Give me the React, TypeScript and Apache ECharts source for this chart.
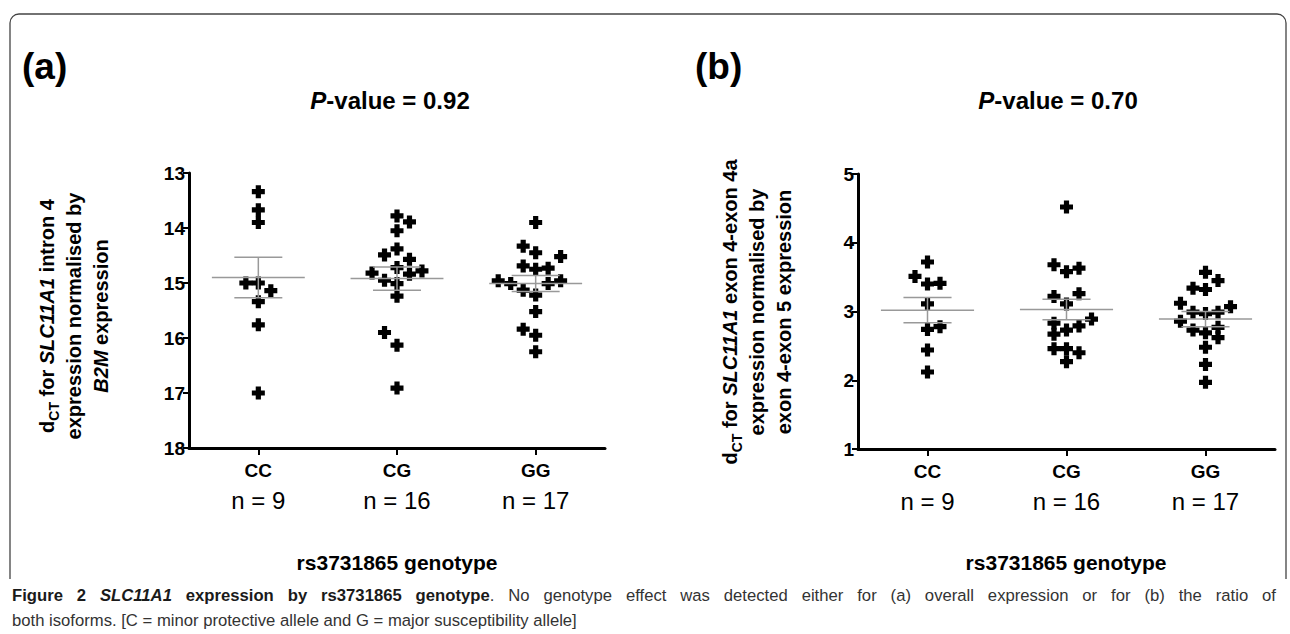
import React, { useEffect, useRef } from "react";
import * as echarts from "echarts";

// ---------- data ----------
const categories = ["CC", "CG", "GG"];
const groupSizes = ["n = 9", "n = 16", "n = 17"];

// Panel (a): dCT intron 4 normalised by B2M
const aCC = [13.34, 13.67, 13.9, 15.0, 15.0, 15.14, 15.34, 15.76, 17.0];
const aCCSlot = [0, 0, 0, -1, 0, 1, 0, 0, 0];
const aCG = [13.78, 13.89, 14.05, 14.38, 14.49, 14.57, 14.72, 14.82, 14.78, 14.84, 14.95, 15.01, 15.24, 15.9, 16.13, 16.91];
const aCGSlot = [0, 1, 0, 0, -1, 1, 0, -2, 2, 1, -1, 0, 0, -1, 0, 0];
const aGG = [13.9, 14.33, 14.45, 14.52, 14.69, 14.75, 14.73, 14.96, 15.01, 15.01, 14.96, 15.13, 15.22, 15.52, 15.84, 15.95, 16.25];
const aGGSlot = [0, -1, 0, 2, -1, 0, 1, -3, -2, 1, 2, -1, 0, 0, -1, 0, 0];
const meanA = [14.9, 14.92, 15.01];
const semA = [0.37, 0.21, 0.145];

// Panel (b): dCT exon 4-exon 4a normalised by exon 4-exon 5
const bCC = [3.72, 3.51, 3.4, 3.41, 3.11, 2.74, 2.78, 2.44, 2.12];
const bCCSlot = [0, -1, 0, 1, 0, 0, 1, 0, 0];
const bCG = [4.52, 3.68, 3.58, 3.63, 3.26, 3.22, 3.11, 2.89, 2.83, 2.79, 2.73, 2.67, 2.46, 2.46, 2.4, 2.27];
const bCGSlot = [0, -1, 0, 1, 1, -1, 0, 2, -1, 1, 0, -1, -1, 0, 1, 0];
const bGG = [3.57, 3.45, 3.34, 3.32, 3.12, 2.99, 2.97, 2.99, 3.07, 2.86, 2.73, 2.69, 2.77, 2.62, 2.48, 2.23, 1.97];
const bGGSlot = [0, 1, -1, 0, -2, -1, 0, 1, 2, -2, -1, 0, 1, 1, 0, 0, 0];
const meanB = [3.02, 3.03, 2.89];
const semB = [0.185, 0.15, 0.11];

const pValueA = "0.92";
const pValueB = "0.70";

// ---------- style constants ----------
const FONT = '"Liberation Sans", Arial, Helvetica, sans-serif';
const CAP_FONT = '"Liberation Sans", Arial, sans-serif';
const SLOT = 0.09;
const PLUS = "path://M3,0H7V3H10V7H7V10H3V7H0V3H3Z";

function swarm(groups: number[][], slots: number[][]) {
  const out: number[][] = [];
  groups.forEach((vals, i) => {
    vals.forEach((v, j) => out.push([i + slots[i][j] * SLOT, v]));
  });
  return out;
}

function meanSemSeries(xIdx: number, yIdx: number, means: number[], sems: number[]) {
  return {
    type: "custom",
    xAxisIndex: xIdx,
    yAxisIndex: yIdx,
    silent: true,
    z: 5,
    data: means.map((m, i) => [i, m, sems[i]]),
    renderItem: (params: any, api: any) => {
      const x = api.value(0);
      const m = api.value(1);
      const s = api.value(2);
      const unit = api.size([1, 0])[0];
      const c = api.coord([x, m]);
      const p1 = api.coord([x, m - s]);
      const p2 = api.coord([x, m + s]);
      const mw = unit * 0.335;
      const cw = unit * 0.173;
      const st = { stroke: "#999999", lineWidth: 1.5 };
      return {
        type: "group",
        children: [
          { type: "line", shape: { x1: c[0] - mw, y1: c[1], x2: c[0] + mw, y2: c[1] }, style: st },
          { type: "line", shape: { x1: c[0], y1: p1[1], x2: c[0], y2: p2[1] }, style: st },
          { type: "line", shape: { x1: c[0] - cw, y1: p1[1], x2: c[0] + cw, y2: p1[1] }, style: st },
          { type: "line", shape: { x1: c[0] - cw, y1: p2[1], x2: c[0] + cw, y2: p2[1] }, style: st },
        ],
      };
    },
  };
}

function catAxis(gridIndex: number) {
  return {
    gridIndex,
    type: "category",
    data: categories,
    boundaryGap: true,
    axisLine: { show: true, onZero: false, lineStyle: { color: "#000", width: 3 } },
    axisTick: { show: true, alignWithLabel: true, length: 7, lineStyle: { color: "#000", width: 2 } },
    splitLine: { show: false },
    axisLabel: {
      margin: 10,
      color: "#000",
      formatter: (v: string, i: number) => `{c|${v}}\n{n|${groupSizes[i]}}`,
      rich: {
        c: { fontSize: 19, fontWeight: "bold", fontFamily: FONT, lineHeight: 24, color: "#000" },
        n: { fontSize: 24, fontFamily: FONT, lineHeight: 36, color: "#000" },
      },
    },
  };
}

function valAxisHidden(gridIndex: number) {
  return { gridIndex, type: "value", min: -0.5, max: 2.5, show: false, axisLine: { onZero: false }, splitLine: { show: false } };
}

function yAxis(gridIndex: number, min: number, max: number, inverse: boolean) {
  return {
    gridIndex,
    type: "value",
    min,
    max,
    interval: 1,
    inverse,
    axisLine: { show: true, onZero: false, lineStyle: { color: "#000", width: 3 } },
    axisTick: { show: true, length: 6, lineStyle: { color: "#000", width: 2 } },
    splitLine: { show: false },
    axisLabel: { margin: 4, fontSize: 19, fontWeight: "bold", fontFamily: FONT, color: "#000" },
  };
}

const yTitleRich = {
  b: { fontSize: 20, fontWeight: "bold", fontFamily: FONT, lineHeight: 27, fill: "#000" },
  bi: { fontSize: 20, fontWeight: "bold", fontStyle: "italic", fontFamily: FONT, lineHeight: 27, fill: "#000" },
  s: { fontSize: 14, fontWeight: "bold", fontFamily: FONT, lineHeight: 27, verticalAlign: "bottom", fill: "#000" },
};

// caption words: each word is a list of [text, styleKey] segments
const captionLine1: [string, string][][] = [
  [["Figure", "fb"]],
  [["2", "fb"]],
  [["SLC11A1", "fbi"]],
  [["expression", "fb"]],
  [["by", "fb"]],
  [["rs3731865", "fb"]],
  [["genotype", "fb"], [".", "fr"]],
  ..."No genotype effect was detected either for (a) overall expression or for (b) the ratio of"
    .split(" ")
    .map((w) => [[w, "fr"]] as [string, string][]),
];
const captionLine2 = "both isoforms. [C = minor protective allele and G = major susceptibility allele]";

const CAP_SIZE = 17;
const capStyles: Record<string, any> = {
  fb: { fontWeight: "bold", fontStyle: "normal", fill: "#1a1a1a" },
  fbi: { fontWeight: "bold", fontStyle: "italic", fill: "#1a1a1a" },
  fr: { fontWeight: "normal", fontStyle: "normal", fill: "#333333" },
};

function buildCaption() {
  const canvas = document.createElement("canvas");
  const ctx = canvas.getContext("2d")!;
  const meas = (t: string, k: string) => {
    const s = capStyles[k];
    ctx.font = `${s.fontStyle} ${s.fontWeight} ${CAP_SIZE}px ${CAP_FONT}`;
    return ctx.measureText(t).width;
  };
  const left = 12;
  const right = 1276;
  const line2Target = 565;
  const sx = line2Target / meas(captionLine2, "fr");
  const els: any[] = [];
  const widths = captionLine1.map((w) => w.reduce((a, [t, k]) => a + meas(t, k) * sx, 0));
  const total = widths.reduce((a, b) => a + b, 0);
  const gap = (right - left - total) / (captionLine1.length - 1);
  let x = left;
  captionLine1.forEach((w, i) => {
    let xx = x;
    w.forEach(([t, k]) => {
      els.push({
        type: "text",
        x: xx,
        y: 595,
        scaleX: sx,
        style: { text: t, fontSize: CAP_SIZE, fontFamily: CAP_FONT, ...capStyles[k], align: "left", verticalAlign: "middle" },
      });
      xx += meas(t, k) * sx;
    });
    x += widths[i] + gap;
  });
  els.push({
    type: "text",
    x: left,
    y: 620,
    scaleX: sx,
    style: { text: captionLine2, fontSize: CAP_SIZE, fontFamily: CAP_FONT, ...capStyles.fr, align: "left", verticalAlign: "middle" },
  });
  return els;
}

function pTitle(x: number, v: string) {
  return {
    type: "text",
    x,
    y: 100,
    style: {
      text: `{i|P}{b|-value = ${v}}`,
      align: "center",
      verticalAlign: "middle",
      rich: {
        i: { fontSize: 24, fontWeight: "bold", fontStyle: "italic", fontFamily: FONT, fill: "#000" },
        b: { fontSize: 24, fontWeight: "bold", fontFamily: FONT, fill: "#000" },
      },
    },
  };
}

function xTitle(x: number) {
  return {
    type: "text",
    x,
    y: 562,
    style: { text: "rs3731865 genotype", fontSize: 21, fontWeight: "bold", fontFamily: FONT, fill: "#000", align: "center", verticalAlign: "middle" },
  };
}

export default function App() {
  const ref = useRef<HTMLDivElement>(null);
  useEffect(() => {
    if (!ref.current) return;
    const chart = echarts.init(ref.current, undefined, { renderer: "svg" });
    const option: any = {
      animation: false,
      backgroundColor: "#ffffff",
      grid: [
        { left: 189, right: 685, top: 173, bottom: 186 },
        { left: 858, right: 15, top: 174, bottom: 185 },
      ],
      xAxis: [catAxis(0), valAxisHidden(0), catAxis(1), valAxisHidden(1)],
      yAxis: [yAxis(0, 13, 18, true), yAxis(1, 1, 5, false)],
      series: [
        {
          type: "scatter",
          xAxisIndex: 1,
          yAxisIndex: 0,
          symbol: PLUS,
          symbolSize: 13,
          itemStyle: { color: "#000", opacity: 1 },
          silent: true,
          data: swarm([aCC, aCG, aGG], [aCCSlot, aCGSlot, aGGSlot]),
        },
        meanSemSeries(1, 0, meanA, semA),
        {
          type: "scatter",
          xAxisIndex: 3,
          yAxisIndex: 1,
          symbol: PLUS,
          symbolSize: 13,
          itemStyle: { color: "#000", opacity: 1 },
          silent: true,
          data: swarm([bCC, bCG, bGG], [bCCSlot, bCGSlot, bGGSlot]),
        },
        meanSemSeries(3, 1, meanB, semB),
      ],
      graphic: [
        {
          type: "rect",
          z: -10,
          shape: { x: 10, y: 14, width: 1276, height: 620, r: 9 },
          style: { fill: "none", stroke: "#444", lineWidth: 1.3 },
        },
        {
          type: "rect",
          z: -9,
          shape: { x: 0, y: 579, width: 1290, height: 60 },
          style: { fill: "#fff", stroke: "none" },
        },
        { type: "text", x: 22, y: 66, style: { text: "(a)", fontSize: 37, fontWeight: "bold", fontFamily: FONT, fill: "#000", align: "left", verticalAlign: "middle" } },
        { type: "text", x: 695, y: 66, style: { text: "(b)", fontSize: 37, fontWeight: "bold", fontFamily: FONT, fill: "#000", align: "left", verticalAlign: "middle" } },
        pTitle(390, pValueA),
        pTitle(1058, pValueB),
        {
          type: "text",
          x: 74,
          y: 316,
          rotation: Math.PI / 2,
          style: {
            text: "{b|d}{s|CT}{b| for }{bi|SLC11A1}{b| intron 4}\n{b|expression normalised by}\n{bi|B2M}{b| expression}",
            align: "center",
            verticalAlign: "middle",
            rich: yTitleRich,
          },
        },
        {
          type: "text",
          x: 757,
          y: 312,
          rotation: Math.PI / 2,
          style: {
            text: "{b|d}{s|CT}{b| for }{bi|SLC11A1}{b| exon 4-exon 4a}\n{b|expression normalised by}\n{b|exon 4-exon 5 expression}",
            align: "center",
            verticalAlign: "middle",
            rich: yTitleRich,
          },
        },
        xTitle(397),
        xTitle(1066),
        ...buildCaption(),
      ],
    };
    chart.setOption(option);
    return () => chart.dispose();
  }, []);
  return <div ref={ref} style={{ position: "fixed", left: 0, top: 0, width: 1290, height: 634 }} />;
}
